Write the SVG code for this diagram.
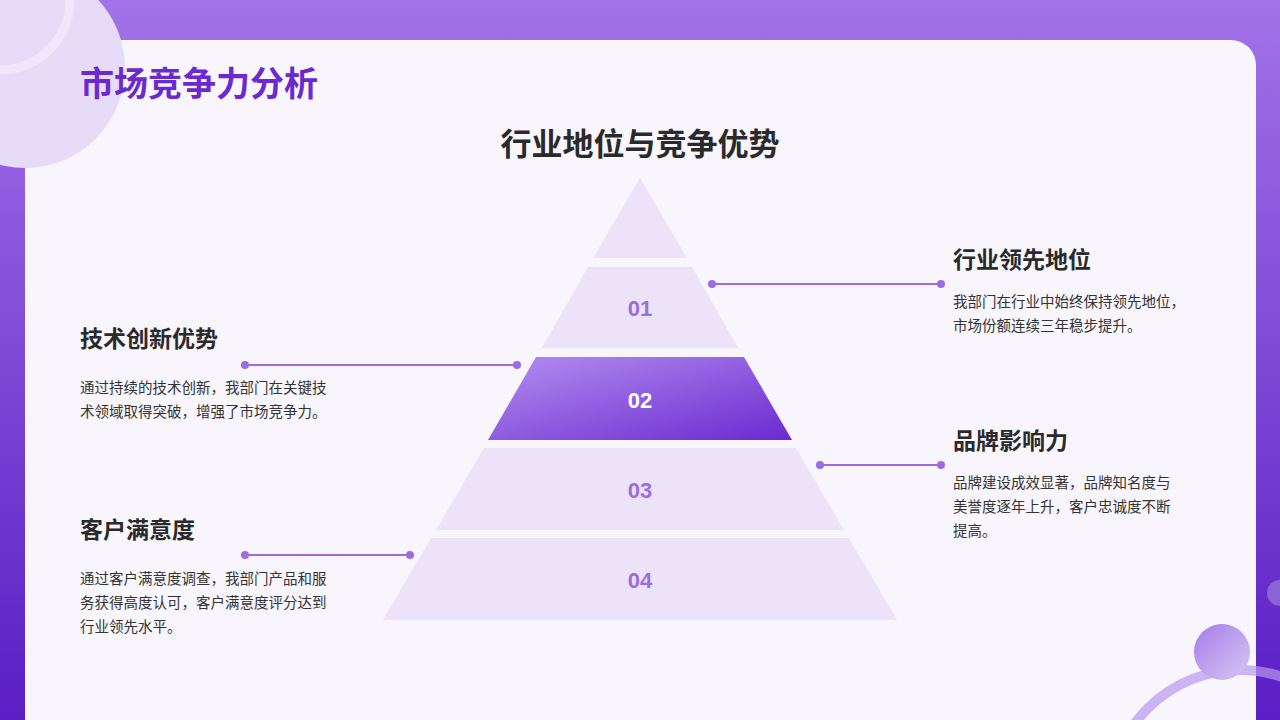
<svg xmlns="http://www.w3.org/2000/svg" width="1280" height="720" viewBox="0 0 1280 720">
<defs>
<linearGradient id="bg" x1="0" y1="0" x2="0" y2="1"><stop offset="0" stop-color="#a273e8"/><stop offset="1" stop-color="#5a1ec4"/></linearGradient>
<linearGradient id="hl" x1="0" y1="0" x2="1" y2="1"><stop offset="0" stop-color="#b48ef0"/><stop offset="1" stop-color="#6a2ad0"/></linearGradient>
<linearGradient id="dot" x1="0" y1="0" x2="1" y2="1"><stop offset="0" stop-color="#a57ce8"/><stop offset="1" stop-color="#d8c8f4"/></linearGradient>
<style>
.ly{fill:#ece3f8}
.num{font-family:"Liberation Sans",Arial,sans-serif;font-weight:bold;font-size:22px;fill:#9a6ee0;text-anchor:middle}
.h{font-family:"Noto Sans CJK SC",sans-serif;font-weight:bold;font-size:23px;fill:#2a2a2a}
.b{font-family:"Noto Sans CJK SC",sans-serif;font-size:14.5px;fill:#333}
.cn line{stroke:#9a6ee0;stroke-width:2}
.cn circle{fill:#9a6ee0}
</style>
</defs>
<rect width="1280" height="720" fill="url(#bg)"/>
<path d="M25 40 H1231 A25 25 0 0 1 1256 65 V720 H25 Z" fill="#f8f5fd"/>
<circle cx="25" cy="68" r="100" fill="#e6dcf8"/>
<circle cx="0" cy="0" r="70" fill="none" stroke="#ffffff" stroke-opacity="0.35" stroke-width="9"/>
<circle cx="1280" cy="593" r="13" fill="#ffffff" fill-opacity="0.25"/>
<circle cx="1240" cy="800" r="130" fill="none" stroke="#b898ec" stroke-opacity="0.7" stroke-width="10"/>
<circle cx="1222" cy="652" r="28" fill="url(#dot)"/>
<text x="80" y="96" font-family="Noto Sans CJK SC,sans-serif" font-weight="bold" font-size="34" fill="#6a2ad0">市场竞争力分析</text>
<text x="640" y="155" text-anchor="middle" font-family="Noto Sans CJK SC,sans-serif" font-weight="bold" font-size="31" fill="#2a2a2a">行业地位与竞争优势</text>
<g id="top"><polygon class="ly" points="640,178 687,258 593,258"/></g>
<g id="l1"><polygon class="ly" points="588,267 692,267 738,348 542,348"/><text class="num" x="640" y="316">01</text></g>
<g id="l2"><polygon fill="url(#hl)" points="536,357 744,357 792,440 488,440"/><text class="num" x="640" y="408" style="fill:#fff">02</text></g>
<g id="l3"><polygon class="ly" points="484,448 796,448 844,530 436,530"/><text class="num" x="640" y="498">03</text></g>
<g id="l4"><polygon class="ly" points="431,538 849,538 897,620 383,620"/><text class="num" x="640" y="588">04</text></g>
<g class="cn">
<line x1="712" y1="284" x2="941" y2="284"/><circle cx="712" cy="284" r="4"/><circle cx="941" cy="284" r="4"/>
<line x1="245" y1="365" x2="517" y2="365"/><circle cx="245" cy="365" r="4"/><circle cx="517" cy="365" r="4"/>
<line x1="820" y1="465" x2="941" y2="465"/><circle cx="820" cy="465" r="4"/><circle cx="941" cy="465" r="4"/>
<line x1="245" y1="555" x2="410" y2="555"/><circle cx="245" cy="555" r="4"/><circle cx="410" cy="555" r="4"/>
</g>
<g id="t1"><text class="h" x="953" y="268">行业领先地位</text><text class="b" x="953" y="307">我部门在行业中始终保持领先地位，</text><text class="b" x="953" y="331">市场份额连续三年稳步提升。</text></g>
<g id="t2"><text class="h" x="80" y="347">技术创新优势</text><text class="b" x="80" y="393">通过持续的技术创新，我部门在关键技</text><text class="b" x="80" y="417">术领域取得突破，增强了市场竞争力。</text></g>
<g id="t3"><text class="h" x="953" y="449">品牌影响力</text><text class="b" x="953" y="488">品牌建设成效显著，品牌知名度与</text><text class="b" x="953" y="512">美誉度逐年上升，客户忠诚度不断</text><text class="b" x="953" y="536">提高。</text></g>
<g id="t4"><text class="h" x="80" y="538">客户满意度</text><text class="b" x="80" y="584">通过客户满意度调查，我部门产品和服</text><text class="b" x="80" y="608">务获得高度认可，客户满意度评分达到</text><text class="b" x="80" y="632">行业领先水平。</text></g>
</svg>
